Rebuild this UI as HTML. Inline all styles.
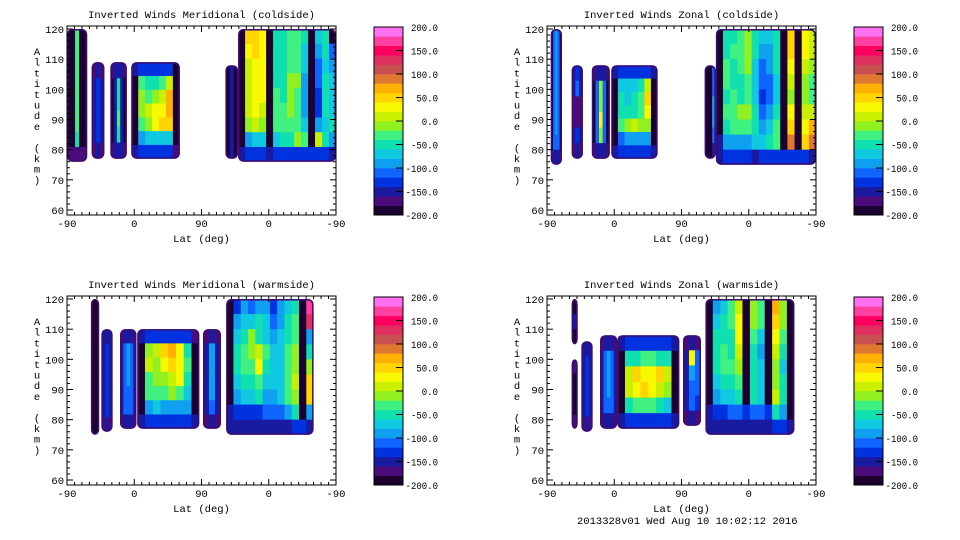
<!DOCTYPE html>
<html><head><meta charset="utf-8">
<style>
html,body{margin:0;padding:0;background:#fff;}
svg{display:block;font-family:"Liberation Mono","DejaVu Sans Mono",monospace;}
text{font-size:10.5px;fill:#000;}
</style></head>
<body>
<svg id="fig" width="960" height="540" viewBox="0 0 960 540" xmlns="http://www.w3.org/2000/svg"></svg>
<script>
// ---- data ----
const panelTitles = ["Inverted Winds Meridional (coldside)","Inverted Winds Zonal (coldside)","Inverted Winds Meridional (warmside)","Inverted Winds Zonal (warmside)"];
const xTickLabels = ["-90","0","90","0","-90"];
const xTickPos = [0,90,180,270,360];
const yTickLabels = [60,70,80,90,100,110,120];
const cbarLabels = [200,150,100,50,0,-50,-100,-150,-200];
const footer = "2013328v01 Wed Aug 10 10:02:12 2016";
const bandColors = ["#1c0030","#4a0c78","#1a1aa0","#0032e0","#1064ff","#10a0f0","#10c8e0","#10e0b0","#40f080","#90f020","#c8f000","#f8f800","#ffd400","#ffb000","#e07830","#c85050","#e03060","#ff0060","#ff40a0","#ff70f0"];

// blobs: [u0,u1,altBottom,altTop, grid rows top->bottom]
const blobsTL = [
 [0,27,76,120,[[-200,-200,-40,-200,-200],[-200,-200,-40,-200,-200],[-200,-200,-40,-200,-200],[-200,-200,-40,-200,-200],[-200,-200,-40,-200,-200],[-200,-200,-40,-200,-200],[-200,-200,-40,-200,-200],[-200,-200,-60,-200,-200],[-170,-170,-170,-170,-170]]],
 [33,50,77,109,[[-170,-150,-170],[-150,-130,-150],[-150,-130,-150],[-150,-130,-150],[-150,-130,-150],[-170,-150,-170]]],
 [58,80,77,109,[[-170,-150,-150,-150,-170],[-200,-150,-50,-150,-200],[-200,-150,-50,-150,-200],[-200,-150,-40,-150,-200],[-200,-150,-50,-150,-200],[-170,-150,-150,-150,-170]]],
 [86,151,77,109,[[-150,-140,-140,-140,-140,-140,-200],[-200,-40,-60,-60,-40,0,-200],[-200,-20,-40,-20,0,60,-200],[-200,-20,0,20,20,60,-200],[-200,-40,-20,20,40,40,-200],[-200,-100,-80,-80,-80,-80,-200],[-150,-140,-140,-140,-140,-140,-170]]],
 [212,229,77,108,[[-200,-150,-200],[-200,-150,-200],[-200,-150,-200],[-200,-150,-200],[-200,-150,-200],[-200,-150,-200]]],
 [229,360,76,120,[[-200,40,50,20,-200,-60,-60,-40,-30,-60,-200,-80,-60,-200],[-200,20,40,20,-200,-60,-60,-40,-30,-80,-200,-100,-60,-120],[-200,0,20,20,-200,-60,-60,-40,-30,-80,-200,-110,-70,-100],[-200,0,30,30,-200,-60,-60,-20,-20,-100,-200,-110,-60,-80],[-200,0,30,30,-200,-40,-60,-20,-30,-100,-200,-130,-60,-80],[-200,0,20,0,-200,-40,-40,-20,-40,-100,-200,-140,-60,-80],[-200,-20,0,-20,-200,-40,-40,-40,-40,-80,-200,-100,-80,-60],[-200,-100,-80,-80,-200,-80,-60,-60,-20,-40,-200,0,-60,-100],[-150,-140,-140,-140,-150,-140,-140,-140,-140,-140,-140,-140,-140,-150]]]
];
const blobsTR = [
 [5,20,75,120,[[-200,-120,-100,-120,-200],[-200,-120,-100,-120,-200],[-200,-120,-100,-120,-200],[-200,-120,-100,-120,-200],[-200,-120,-90,-120,-200],[-200,-120,-100,-120,-200],[-200,-120,-100,-120,-200],[-200,-120,-110,-120,-200],[-170,-150,-150,-150,-170]]],
 [33,48,77,108,[[-150,-130,-150],[-150,-120,-150],[-170,-170,-170],[-170,-170,-170],[-150,-130,-150],[-170,-150,-170]]],
 [60,84,77,108,[[-170,-150,-150,-150,-170],[-200,-120,-20,-120,-200],[-200,-120,-20,-120,-200],[-200,-120,20,-120,-200],[-200,-120,-20,-120,-200],[-170,-150,-150,-150,-170]]],
 [86,148,77,108,[[-150,-140,-140,-140,-140,-140,-150],[-200,-80,-80,-80,-60,0,-200],[-200,-60,-80,-60,-40,40,-200],[-200,-60,-60,-60,-40,20,-200],[-200,-40,-20,0,-20,-20,-200],[-200,-120,-100,-100,-100,-100,-200],[-150,-140,-140,-140,-140,-140,-150]]],
 [211,226,77,108,[[-200,-200,-120],[-200,-200,-120],[-200,-200,-100],[-200,-200,-100],[-200,-200,-120],[-200,-200,-150]]],
 [226,360,75,120,[[-200,-60,-60,-40,-20,-60,-80,-80,-60,-200,40,-200,20,0],[-200,-60,-40,-40,-20,-60,-100,-100,-60,-200,40,-200,20,0],[-200,-40,-60,-40,-20,-80,-110,-100,-60,-200,20,-200,0,-20],[-200,-40,-60,-60,-40,-80,-120,-110,-80,-200,0,-200,-20,-40],[-200,-60,-40,-60,-40,-80,-130,-120,-80,-200,-20,-200,-20,-40],[-200,-40,-40,-20,-20,-60,-110,-100,-60,-200,20,-200,0,0],[-200,-60,-40,-40,-40,-60,-100,-80,-40,-200,40,-200,20,60],[-160,-100,-100,-100,-100,-80,-80,-60,-40,-200,80,-200,40,80],[-150,-140,-140,-140,-140,-150,-140,-140,-140,-140,-140,-140,-140,-150]]]
];
const blobsBL = [
 [32,43,75,120,[[-200],[-200],[-200],[-200],[-200],[-200],[-200],[-200],[-200]]],
 [46,61,76,110,[[-150,-150,-150],[-150,-130,-150],[-150,-130,-150],[-150,-130,-150],[-150,-130,-150],[-150,-130,-150],[-170,-150,-170]]],
 [71,93,77,110,[[-170,-150,-150,-150,-170],[-150,-120,-90,-120,-150],[-150,-120,-90,-120,-150],[-150,-120,-100,-120,-150],[-150,-120,-110,-120,-150],[-150,-120,-110,-120,-150],[-170,-150,-150,-150,-170]]],
 [94,177,77,110,[[-150,-140,-140,-140,-140,-140,-140,-170],[-200,-20,0,40,60,30,-60,-200],[-200,0,-20,20,40,30,-40,-200],[-200,-40,-20,-20,0,20,-60,-200],[-200,-40,-40,-40,-20,-40,-80,-200],[-200,-100,-80,-100,-100,-100,-100,-200],[-150,-140,-140,-140,-140,-140,-140,-150]]],
 [182,206,77,110,[[-170,-150,-170],[-150,-100,-150],[-150,-90,-150],[-150,-90,-150],[-150,-100,-150],[-150,-110,-150],[-170,-150,-170]]],
 [213,330,75,120,[[-200,-130,-100,-120,-100,-100,-130,-100,-80,-60,-200,160],[-200,-100,-80,-80,-60,-80,-120,-100,-60,-40,-200,120],[-200,-80,-60,-20,-60,-80,-100,-80,-60,-40,-200,-100],[-200,-60,-40,-20,0,-40,-80,-80,-40,-20,-200,-60],[-200,-60,-40,-40,20,-60,-80,-80,-40,-20,-200,-20],[-200,-80,-60,-60,-40,-80,-80,-80,-40,0,-200,40],[-200,-100,-80,-80,-60,-100,-100,-80,-40,-20,-200,40],[-150,-130,-130,-130,-130,-120,-120,-120,-100,-60,-200,-100],[-150,-150,-150,-150,-150,-150,-150,-150,-150,-140,-140,-150]]]
];
const blobsBR = [
 [33,41,105,120,[[-200],[-160],[-200]]],
 [33,41,77,100,[[-170],[-200],[-200],[-200],[-170]]],
 [46,61,76,106,[[-150,-150,-150],[-150,-130,-150],[-150,-130,-150],[-150,-130,-150],[-150,-130,-150],[-170,-150,-170]]],
 [71,94,77,108,[[-170,-150,-150,-150,-170],[-150,-120,-90,-120,-150],[-150,-120,-90,-120,-150],[-150,-120,-100,-120,-150],[-150,-120,-110,-120,-150],[-170,-150,-150,-150,-170]]],
 [94,177,77,108,[[-150,-140,-130,-130,-130,-130,-140,-150],[-200,-60,-60,-40,-40,-60,-60,-200],[-200,0,40,20,20,40,0,-200],[-200,0,20,40,20,0,-20,-200],[-200,-60,-40,-40,-40,-60,-80,-200],[-150,-140,-140,-140,-140,-140,-140,-150]]],
 [182,206,78,108,[[-170,-150,-170],[-150,20,-120],[-150,-90,-110],[-150,-110,-110],[-150,-120,-130],[-170,-150,-170]]],
 [212,331,75,120,[[-200,-100,-80,-40,0,-200,-20,-40,-200,60,-20,-200],[-200,-80,-60,-40,20,-200,-20,-40,-200,40,-20,-200],[-200,-60,-60,-60,20,-200,-40,-80,-200,20,-40,-200],[-200,-60,-40,-60,0,-200,-60,-90,-200,0,-60,-200],[-200,-60,-40,-40,-20,-200,-60,-80,-200,-20,-80,-200],[-200,-80,-60,-60,-40,-200,-60,-80,-200,-20,-60,-200],[-200,-100,-80,-80,-60,-200,-60,-80,-200,0,-60,-200],[-160,-130,-130,-120,-120,-140,-120,-120,-140,-60,-100,-200],[-150,-150,-150,-150,-150,-150,-150,-150,-150,-140,-140,-150]]]
];
const panelBlobs = [blobsTL, blobsTR, blobsBL, blobsBR];

// ---- rendering ----
const NS = "http://www.w3.org/2000/svg";
const svg = document.getElementById('fig');
function mk(tag, attrs, parent){const e=document.createElementNS(NS,tag);for(const k in attrs)e.setAttribute(k,attrs[k]);(parent||svg).appendChild(e);return e;}
function colorOf(v){let i=Math.floor((v+200)/20);if(i<0)i=0;if(i>19)i=19;return bandColors[i];}

const offsets = [[0,0],[480,0],[0,270],[480,270]];
offsets.forEach((o,p)=>{
  const ox=o[0], oy=o[1];
  const L=67+ox, R=336+ox, T=26+oy, B=215+oy;
  const X = u => L + u*(R-L)/360;
  const Y = a => 29+oy + (120-a)*(181/60);
  const g = mk('g',{});
  
  
  const clip = mk('clipPath',{id:'pc'+p},g);
  mk('rect',{x:L,y:T,width:R-L,height:B-T},clip);
  const plot = mk('g',{'clip-path':'url(#pc'+p+')'},g);
  panelBlobs[p].forEach((b,bi)=>{
    const [u0,u1,a0,a1,grid]=b;
    const x0=X(u0),x1=X(u1),y0=Y(a1),y1=Y(a0);
    const bg = mk('g',{},plot);
    
    
    const cid='bc'+p+'_'+bi;
    const cp = mk('clipPath',{id:cid},bg);
    mk('rect',{x:x0,y:y0,width:x1-x0,height:y1-y0,rx:5,ry:5},cp);
    const cg = mk('g',{'clip-path':'url(#'+cid+')'},bg);
    const nr=grid.length, nc=grid[0].length;
    const cw=(x1-x0)/nc, ch=(y1-y0)/nr;
    for(let r=0;r<nr;r++)for(let c=0;c<grid[r].length;c++){
      const cell = mk('rect',{x:x0+c*cw,y:y0+r*ch,width:cw+0.5,height:ch+0.5,fill:colorOf(grid[r][c])},cg);
      
      
    }
    mk('rect',{x:x0+0.75,y:y0+0.75,width:x1-x0-1.5,height:y1-y0-1.5,rx:5,ry:5,fill:'none',stroke:'#3c0c70','stroke-width':1.5},bg);
  });
  const fr = mk('rect',{x:L,y:T,width:R-L,height:B-T,fill:'none',stroke:'#000','stroke-width':1},g);
  
  
  for(let a=60;a<=120;a+=2){
    const len=(a%10===0)?6:3;
    mk('line',{x1:L,x2:L+len,y1:Y(a),y2:Y(a),stroke:'#000'},g);
    mk('line',{x1:R,x2:R-len,y1:Y(a),y2:Y(a),stroke:'#000'},g);
  }
  yTickLabels.forEach(a=>{
    const t=mk('text',{x:L-3,y:Y(a)+4,'text-anchor':'end'},g);t.textContent=a;
    
    
  });
  for(let u=0;u<=360;u+=10){
    const len=(u%90===0)?6:3;
    mk('line',{x1:X(u),x2:X(u),y1:B,y2:B-len,stroke:'#000'},g);
    mk('line',{x1:X(u),x2:X(u),y1:T,y2:T+len,stroke:'#000'},g);
  }
  xTickPos.forEach((u,i)=>{
    const t=mk('text',{x:X(u),y:B+12,'text-anchor':'middle'},g);t.textContent=xTickLabels[i];
    
    
  });
  const xt=mk('text',{x:(L+R)/2,y:B+27,'text-anchor':'middle'},g);xt.textContent='Lat (deg)';
  
  
  const tt=mk('text',{x:(L+R)/2,y:T-8,'text-anchor':'middle'},g);tt.textContent=panelTitles[p];
  
  
  const yl='Altitude (km)';
  const yg=mk('g',{},g);
  
  
  for(let i=0;i<yl.length;i++){
    const t=mk('text',{x:37+ox,y:oy+55+i*10.7,'text-anchor':'middle'},yg);
    t.textContent = yl[i]===' '?'\u00a0':yl[i];
  }
  const cx=374+ox, cw=29, cT=27+oy, cB=215+oy;
  const cb=mk('g',{},g);
  
  
  const bh=(cB-cT)/20;
  bandColors.forEach((c,i)=>{
    mk('rect',{x:cx,y:cB-(i+1)*bh,width:cw,height:bh+0.3,fill:c},cb);
  });
  mk('rect',{x:cx,y:cT,width:cw,height:cB-cT,fill:'none',stroke:'#000'},cb);
  cbarLabels.forEach(v=>{
    const y=cB-(v+200)/400*(cB-cT);
    mk('line',{x1:cx+cw-7,x2:cx+cw,y1:y,y2:y,stroke:'#000'},cb);
    const s=v.toFixed(1);
    const w=s.length*5.4;
    const t=mk('text',{x:438+ox-w,y:y+4,'font-size':'10px',textLength:w,lengthAdjust:'spacingAndGlyphs'},cb);t.textContent=s;
    
    
  });
});
const ft=mk('text',{x:577,y:524});ft.textContent=footer;


</script>
</body></html>
